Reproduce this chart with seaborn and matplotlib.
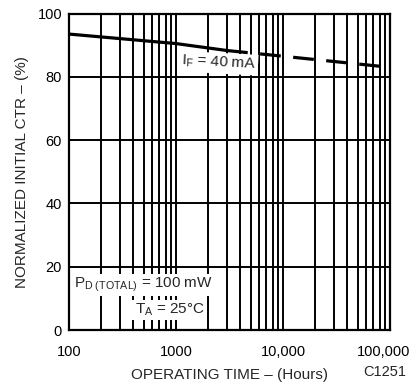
import matplotlib
matplotlib.use("Agg")
import matplotlib.pyplot as plt
import matplotlib.ticker as mticker
import matplotlib.transforms as mtrans
import seaborn as sns
import pandas as pd

# Data
solid_hours = [100, 1000, 3000]
solid_ctr = [93.5, 90.5, 88.3]
dashed_hours = [3000, 10000, 100000]
dashed_ctr = [88.3, 86.5, 83.0]
x_ticks = [100, 1000, 10000, 100000]
x_tick_labels = ["100", "1000", "10,000", "100,000"]
y_ticks = [0, 20, 40, 60, 80, 100]

sns.set_style("white")
plt.rcParams["font.family"] = ["Liberation Sans", "DejaVu Sans"]
plt.rcParams["mathtext.fontset"] = "custom"
plt.rcParams["mathtext.rm"] = "Liberation Sans"
plt.rcParams["mathtext.it"] = "Liberation Sans"

fig = plt.figure(figsize=(4.19, 3.88), dpi=100)
ax = fig.add_axes([69 / 419, 58 / 388, (390 - 69) / 419, (330 - 13.5) / 388])

df_solid = pd.DataFrame({"hours": solid_hours, "ctr": solid_ctr})
df_dash = pd.DataFrame({"hours": dashed_hours, "ctr": dashed_ctr})

ax.set_xscale("log")
ax.set_xlim(100, 100000)
ax.set_ylim(0, 100)

ax.xaxis.set_minor_locator(mticker.LogLocator(base=10, subs=range(2, 10)))
ax.xaxis.set_minor_formatter(mticker.NullFormatter())
ax.set_xticks(x_ticks)
ax.set_xticklabels(x_tick_labels)
ax.set_yticks(y_ticks)

ax.set_axisbelow(True)
ax.grid(which="major", axis="both", color="black", lw=1.4)
ax.grid(which="minor", axis="x", color="black", lw=1.4)

sns.lineplot(data=df_solid, x="hours", y="ctr", ax=ax, color="black", lw=2.3, zorder=5)
sns.lineplot(data=df_dash, x="hours", y="ctr", ax=ax, color="black", lw=2.3, zorder=5)
ax.lines[-1].set_dashes((6.5, 3.9))

for s in ax.spines.values():
    s.set_visible(True)
    s.set_color("black")
    s.set_linewidth(1.6)
    s.set_zorder(6)

ax.tick_params(axis="both", which="both", length=0, labelsize=10.5, colors="black")
ax.tick_params(axis="x", pad=11)
ax.tick_params(axis="y", pad=5)

# last x tick label sits slightly left of the axis end in the reference
lbl = ax.get_xticklabels()[-1]
lbl.set_transform(lbl.get_transform() + mtrans.ScaledTranslation(-6 / 100, 0, fig.dpi_scale_trans))

ax.set_xlabel("OPERATING TIME \u2013 (Hours)", fontsize=11, labelpad=6)
ax.set_ylabel("NORMALIZED INITIAL CTR \u2013 (%)", fontsize=11, labelpad=6)

bb = dict(facecolor="white", edgecolor="none", pad=1.5)
ax.text(2500, 84.3, r"I$_\mathrm{F}$ = 40 mA", fontsize=11, rotation=-3,
        ha="center", va="center", bbox=bb, zorder=4)
ax.text(112, 14.2, r"P$_\mathrm{D\ (TOTAL)}$ = 100 mW", fontsize=11,
        ha="left", va="center", bbox=bb, zorder=4)
ax.text(410, 6.3, "T$_\\mathrm{A}$ = 25\u00b0C", fontsize=11,
        ha="left", va="center", bbox=bb, zorder=4)

fig.text(385 / 419, 1 - 372 / 388, "C1251", fontsize=10.5, ha="center", va="center")

fig.savefig("out.png", dpi=100)
